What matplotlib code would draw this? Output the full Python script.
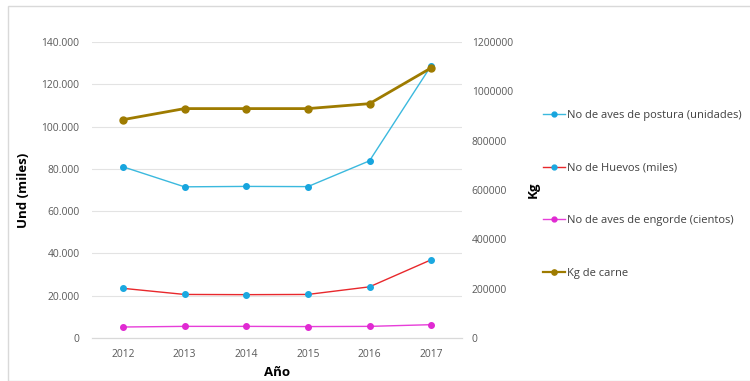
import matplotlib
matplotlib.use("Agg")
import matplotlib.pyplot as plt
from matplotlib.patches import Rectangle
from matplotlib.lines import Line2D

years = ["2012", "2013", "2014", "2015", "2016", "2017"]
aves_postura = [81000, 71500, 71700, 71600, 83800, 128800]
huevos = [23500, 20600, 20500, 20600, 24200, 37000]
aves_engorde = [5200, 5500, 5500, 5400, 5500, 6300]
kg_carne = [885000, 930000, 930000, 930000, 950000, 1095000]

left_ticks = [0, 20000, 40000, 60000, 80000, 100000, 120000, 140000]
left_labels = ["0", "20.000", "40.000", "60.000", "80.000", "100.000", "120.000", "140.000"]
right_ticks = [0, 200000, 400000, 600000, 800000, 1000000, 1200000]

plt.rcParams['font.family'] = ['Open Sans', 'DejaVu Sans']

W, H = 750, 381
fig = plt.figure(figsize=(7.5, 3.81), dpi=100)
fig.patches.append(Rectangle((8 / W, 0), 1, 1 - 6 / H, transform=fig.transFigure,
                             fill=False, edgecolor="#D9D9D9", linewidth=1))

x0, x1 = 92, 462
y0, y1 = 338, 42
ax = fig.add_axes([x0 / W, 1 - y0 / H, (x1 - x0) / W, (y0 - y1) / H])
ax2 = ax.twinx()

x = list(range(len(years)))
tick_col = "#595959"

l1, = ax.plot(x, aves_postura, color="#3BB9DE", lw=1.0, marker="o", ms=4,
              mfc="#17A5DE", mec="#17A5DE")
l2, = ax.plot(x, huevos, color="#E8282C", lw=1.0, marker="o", ms=4,
              mfc="#1BA8E0", mec="#1BA8E0")
l3, = ax.plot(x, aves_engorde, color="#E73ED9", lw=1.0, marker="o", ms=4,
              mfc="#E02AD2", mec="#E02AD2")
l4, = ax2.plot(x, kg_carne, color="#9E7B00", lw=2.0, marker="o", ms=5,
               mfc="#9E7B00", mec="#9E7B00")

ax.set_xlim(-0.5, 5.5)
ax.set_ylim(0, 140000)
ax2.set_ylim(0, 1200000)
ax.set_xticks(x)
ax.set_xticklabels(years)
ax.set_yticks(left_ticks)
ax.set_yticklabels(left_labels)
ax2.set_yticks(right_ticks)
ax2.set_yticklabels([str(v) for v in right_ticks])

ax.grid(axis="y", color="#E3E3E3", lw=0.8)
ax.set_axisbelow(True)
for a in (ax, ax2):
    for s in ("top", "left", "right"):
        a.spines[s].set_visible(False)
    a.spines["bottom"].set_color("#D9D9D9")
    a.tick_params(length=0, colors=tick_col, labelsize=7.4)
ax.tick_params(axis="y", pad=9)
ax2.tick_params(axis="y", pad=7)
ax.tick_params(axis="x", pad=8)

ax.set_ylabel("Und (miles)", fontsize=9.5, fontweight="bold", color="black", labelpad=8)
ax.set_xlabel("Año", fontsize=9.5, fontweight="bold", color="black", labelpad=4)
ax2.set_ylabel("Kg", fontsize=9.5, fontweight="bold", color="black", labelpad=10)

h1 = Line2D([], [], color="#3BB9DE", lw=1.0, marker="o", ms=3.5, mfc="#17A5DE", mec="#17A5DE")
h2 = Line2D([], [], color="#E8282C", lw=1.0, marker="o", ms=3.5, mfc="#1BA8E0", mec="#1BA8E0")
h3 = Line2D([], [], color="#E73ED9", lw=1.0, marker="o", ms=3.5, mfc="#E02AD2", mec="#E02AD2")
h4 = Line2D([], [], color="#9E7B00", lw=1.6, marker="o", ms=3.8, mfc="#9E7B00", mec="#9E7B00")

labels = ["No de aves de postura (unidades)", "No de Huevos (miles)",
          "No de aves de engorde (cientos)", "Kg de carne"]
leg = fig.legend([h1, h2, h3, h4], labels, loc="upper left",
                 bbox_to_anchor=(533 / W, 1 - 100 / H), frameon=False,
                 fontsize=8.0, labelspacing=3.75, handlelength=2.0,
                 handletextpad=0.15)
for t in leg.get_texts():
    t.set_color("#404040")

fig.savefig("out.png", dpi=100)
